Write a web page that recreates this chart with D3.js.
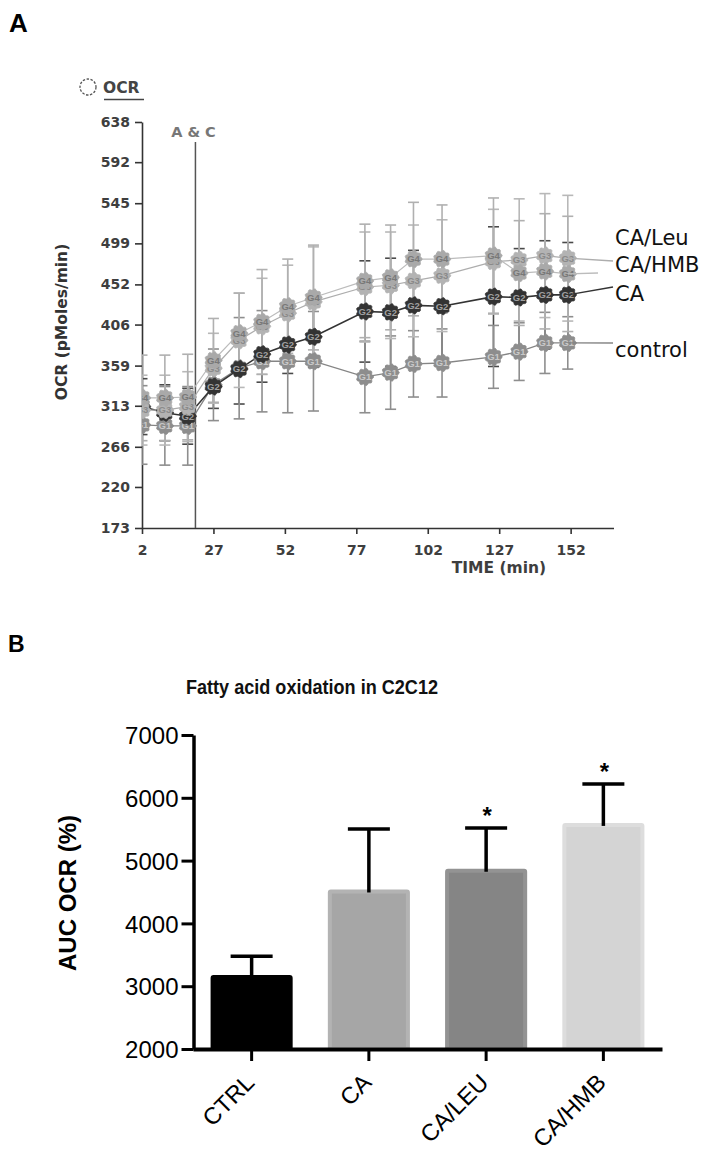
<!DOCTYPE html>
<html><head><meta charset="utf-8">
<script src="https://cdn.jsdelivr.net/npm/d3@7"></script>
<style>body{margin:0;background:#fff}svg{display:block}</style>
</head><body>
<svg id="c" width="715" height="1158"></svg>
<script>
// ---------- Panel A data ----------
const times = [2,10,18,27,36,44,53,62,80,89,97,107,125,134,143,151];
const seriesNames = ["control","CA","CA/Leu","CA/HMB"];
const groupCodes = ["G1","G2","G3","G4"];
const controlOCR = [291,290,290,337,356,364,364,364,346,351,361,362,369,375,385,385];
const caOCR      = [312,305,301,335,355,372,383,392,421,420,428,427,438,437,440,440];
const caLeuOCR   = [308,308,312,356,388,404,419,432,449,451,456,462,478,480,485,482];
const caHmbOCR   = [322,322,323,365,396,409,427,437,456,460,481,481,485,465,467,464];
const controlErr = [45,45,45,41,58,58,59,57,41,42,38,39,36,33,35,30];
const caErr      = [32,32,32,25,40,32,33,35,58,62,63,60,80,56,62,60];
const caLeuErr   = [40,40,40,40,54,55,55,63,63,61,64,64,60,70,71,72];
const caHmbErr   = [49,49,49,48,46,60,54,60,65,60,65,62,66,60,66,66];
const yTicksA = [173,220,266,313,359,406,452,499,545,592,638];
const xTicksA = [2,27,52,77,102,127,152];
const injectionTime = 20.7;
const injectionLabel = "A & C";

// ---------- Panel B data ----------
const categories = ["CTRL","CA","CA/LEU","CA/HMB"];
const aucMean = [3180,4540,4870,5600];
const aucErr  = [295,965,650,620];
const aucSig  = ["","","*","*"];
const yTicksB = [2000,3000,4000,5000,6000,7000];

// ---------- styles ----------
const styles = [
  {fill:"#8d8d8d", text:"#c8c8c8", line:"#858585", err:"#8e8e8e", lw:1.3},
  {fill:"#333333", text:"#a0a0a0", line:"#333333", err:"#4a4a4a", lw:1.6},
  {fill:"#b3b3b3", text:"#8a8a8a", line:"#adadad", err:"#b8b8b8", lw:1.2},
  {fill:"#a9a9a9", text:"#787878", line:"#bcbcbc", err:"#b0b0b0", lw:1.2}
];
// right-hand label layout: [label baseline y, leader end x, leader end y]
const labelLayout = [
  {by:357, ex:613, ey:343},
  {by:301, ex:613, ey:287},
  {by:245, ex:613, ey:261},
  {by:272, ex:598, ey:273}
];

const svg = d3.select("#c");
const fA = "'DejaVu Sans', Verdana, sans-serif";
const fB = "'Liberation Sans', Arial, Helvetica, sans-serif";

// ================= PANEL A =================
svg.append("text").attr("x",9).attr("y",32).attr("font-family",fB).attr("font-weight","bold")
  .attr("font-size",26).text("A");

const xA = d3.scaleLinear().domain([2,167]).range([142,613.5]);
const yA = d3.scaleLinear().domain([173,638]).range([528,122]);

const cloud = { draw(ctx, size){
  const r = Math.sqrt(size/Math.PI), n = 60;
  for(let i=0;i<=n;i++){
    const a = i/n*2*Math.PI, rr = r*(1+0.09*Math.cos(9*a));
    const px = rr*Math.cos(a), py = rr*Math.sin(a);
    if(i===0) ctx.moveTo(px,py); else ctx.lineTo(px,py);
  }
  ctx.closePath();
}};
svg.append("circle").attr("cx",88).attr("cy",87).attr("r",8).attr("fill","none")
  .attr("stroke","#555").attr("stroke-width",1.3).attr("stroke-dasharray","2.5,1.5");
svg.append("text").attr("x",103).attr("y",92.5).attr("font-family",fA).attr("font-weight","bold")
  .attr("font-size",15.5).attr("fill","#444").text("OCR");
svg.append("line").attr("x1",104).attr("x2",144).attr("y1",99.5).attr("y2",99.5)
  .attr("stroke","#444").attr("stroke-width",1.6);

svg.append("defs").append("clipPath").attr("id","clipA").append("rect")
  .attr("x",xA.range()[0]).attr("y",90).attr("width",520).attr("height",460);

const axL = svg.append("g").attr("transform",`translate(${xA.range()[0]},0)`)
  .call(d3.axisLeft(yA).tickValues(yTicksA).tickSize(7).tickPadding(5).tickSizeOuter(0));
const axBt = svg.append("g").attr("transform",`translate(0,${yA.range()[0]})`)
  .call(d3.axisBottom(xA).tickValues(xTicksA).tickSize(6).tickPadding(11).tickSizeOuter(0));
[axL,axBt].forEach(a=>{
  a.selectAll("path,line").attr("stroke","#333").attr("stroke-width",1.6);
  a.selectAll("text").attr("font-family",fA).attr("font-weight","bold").attr("font-size",14).attr("fill","#3e3e3e");
});

svg.append("text").attr("x",499).attr("y",573).attr("text-anchor","middle").attr("font-family",fA)
  .attr("font-weight","bold").attr("font-size",15.5).attr("fill","#3e3e3e").text("TIME (min)");
svg.append("text").attr("transform","translate(67,322) rotate(-90)").attr("text-anchor","middle")
  .attr("font-family",fA).attr("font-weight","bold").attr("font-size",15.5).attr("fill","#333")
  .text("OCR (pMoles/min)");

svg.append("line").attr("x1",xA(injectionTime)).attr("x2",xA(injectionTime))
  .attr("y1",142).attr("y2",yA.range()[0]).attr("stroke","#555").attr("stroke-width",1.5);
svg.append("text").attr("x",xA(injectionTime)-2).attr("y",137).attr("text-anchor","middle")
  .attr("font-family",fA).attr("font-weight","bold").attr("font-size",14.5).attr("fill","#777")
  .text(injectionLabel);

const seriesData = [controlOCR, caOCR, caLeuOCR, caHmbOCR];
const seriesErr = [controlErr, caErr, caLeuErr, caHmbErr];
const series = seriesNames.map((name,i)=>({
  name, code:groupCodes[i], style:styles[i], layout:labelLayout[i],
  values: times.map((t,j)=>({t, v:seriesData[i][j], e:seriesErr[i][j]}))
}));

const plot = svg.append("g").attr("clip-path","url(#clipA)");
[1,0,2,3].forEach(i=>{
  const s = series[i];
  const g = plot.append("g").attr("stroke",s.style.err).attr("stroke-width",1.6);
  g.selectAll("line.v").data(s.values).join("line").attr("class","v")
    .attr("x1",d=>xA(d.t)).attr("x2",d=>xA(d.t)).attr("y1",d=>yA(d.v+d.e)).attr("y2",d=>yA(d.v-d.e));
  g.selectAll("line.t").data(s.values).join("line").attr("class","t")
    .attr("x1",d=>xA(d.t)-5.5).attr("x2",d=>xA(d.t)+5.5).attr("y1",d=>yA(d.v+d.e)).attr("y2",d=>yA(d.v+d.e));
  g.selectAll("line.b").data(s.values).join("line").attr("class","b")
    .attr("x1",d=>xA(d.t)-5.5).attr("x2",d=>xA(d.t)+5.5).attr("y1",d=>yA(d.v-d.e)).attr("y2",d=>yA(d.v-d.e));
});
const lineGen = d3.line().x(d=>xA(d.t)).y(d=>yA(d.v));
series.forEach(s=>{
  plot.append("path").datum(s.values).attr("d",lineGen).attr("fill","none")
    .attr("stroke",s.style.line).attr("stroke-width",s.style.lw);
});
series.forEach(s=>{
  const last = s.values[s.values.length-1];
  svg.append("line").attr("x1",xA(last.t)).attr("y1",yA(last.v)).attr("x2",s.layout.ex).attr("y2",s.layout.ey)
    .attr("stroke",s.style.line).attr("stroke-width",1.3);
  svg.append("text").attr("x",615).attr("y",s.layout.by).attr("font-family",fA).attr("font-size",21)
    .attr("fill","#111").text(s.name);
});
const sym = d3.symbol().type(cloud).size(Math.PI*8*8);
series.forEach(s=>{
  const g = plot.append("g");
  const m = g.selectAll("g").data(s.values).join("g").attr("transform",d=>`translate(${xA(d.t)},${yA(d.v)})`);
  m.append("path").attr("d",sym).attr("fill",s.style.fill).attr("stroke",s.style.fill).attr("stroke-width",0.8);
  m.append("text").attr("text-anchor","middle").attr("y",3.3).attr("font-family",fB).attr("font-weight","bold")
    .attr("font-size",9.5).attr("fill",s.style.text).text(s.code);
});

// ================= PANEL B =================
svg.append("text").attr("x",8).attr("y",652).attr("font-family",fB).attr("font-weight","bold")
  .attr("font-size",23).text("B");
svg.append("text").attr("x",312).attr("y",694).attr("text-anchor","middle").attr("font-family",fB)
  .attr("font-weight","bold").attr("font-size",21).attr("fill","#111")
  .attr("textLength",252).attr("lengthAdjust","spacingAndGlyphs").text("Fatty acid oxidation in C2C12");

const xB = d3.scaleBand().domain(categories).range([193,662]).paddingInner(0.3).paddingOuter(0.15);
const yB = d3.scaleLinear().domain([2000,7000]).range([1049,735]);
const barFill = ["#000000","#a6a6a6","#858585","#d4d4d4"];
const barEdge = ["#000000","#b3b3b3","#939393","#dddddd"];
const barData = categories.map((c,i)=>({c, v:aucMean[i], e:aucErr[i], s:aucSig[i], fill:barFill[i], edge:barEdge[i]}));

const gB = svg.append("g");
gB.selectAll("rect").data(barData).join("rect")
  .attr("x",d=>xB(d.c)+2).attr("width",xB.bandwidth()-4)
  .attr("y",d=>yB(d.v)+2).attr("height",d=>yB(2000)-yB(d.v)-2)
  .attr("fill",d=>d.fill).attr("stroke",d=>d.edge).attr("stroke-width",4).attr("rx",1);
const eg = gB.append("g").attr("stroke","#000").attr("stroke-width",3.5);
eg.selectAll("line.v").data(barData).join("line").attr("class","v")
  .attr("x1",d=>xB(d.c)+xB.bandwidth()/2).attr("x2",d=>xB(d.c)+xB.bandwidth()/2)
  .attr("y1",d=>yB(d.v)+3).attr("y2",d=>yB(d.v+d.e));
eg.selectAll("line.c").data(barData).join("line").attr("class","c")
  .attr("x1",d=>xB(d.c)+xB.bandwidth()/2-21).attr("x2",d=>xB(d.c)+xB.bandwidth()/2+21)
  .attr("y1",d=>yB(d.v+d.e)).attr("y2",d=>yB(d.v+d.e));
gB.selectAll("text.sig").data(barData).join("text").attr("class","sig")
  .attr("x",d=>xB(d.c)+xB.bandwidth()/2+1).attr("y",d=>yB(d.v+d.e)-4)
  .attr("text-anchor","middle").attr("font-family",fB).attr("font-weight","bold").attr("font-size",24)
  .text(d=>d.s);

const ayB = svg.append("g").attr("transform",`translate(193.5,0)`)
  .call(d3.axisLeft(yB).tickValues(yTicksB).tickFormat(d3.format("d")).tickSize(12).tickPadding(3).tickSizeOuter(0));
ayB.select("path").attr("stroke","#000").attr("stroke-width",3.5);
ayB.selectAll("line").attr("stroke","#000").attr("stroke-width",3);
ayB.selectAll("text").attr("font-family",fB).attr("font-size",24).attr("fill","#000").attr("dy","0.36em");

const axB = svg.append("g").attr("transform",`translate(0,1049)`)
  .call(d3.axisBottom(xB).tickSize(12).tickSizeOuter(0));
axB.select("path").attr("stroke","#000").attr("stroke-width",4);
axB.selectAll("line").attr("stroke","#000").attr("stroke-width",3);
axB.selectAll("text").attr("font-family",fB).attr("font-size",23.5).attr("fill","#000")
  .attr("text-anchor","end").attr("dy",null).attr("y",null)
  .attr("transform","translate(4,35) rotate(-45)");

svg.append("text").attr("transform","translate(76,893) rotate(-90)").attr("text-anchor","middle")
  .attr("font-family",fB).attr("font-weight","bold").attr("font-size",24).attr("fill","#000")
  .text("AUC OCR (%)");
</script>
</body></html>
